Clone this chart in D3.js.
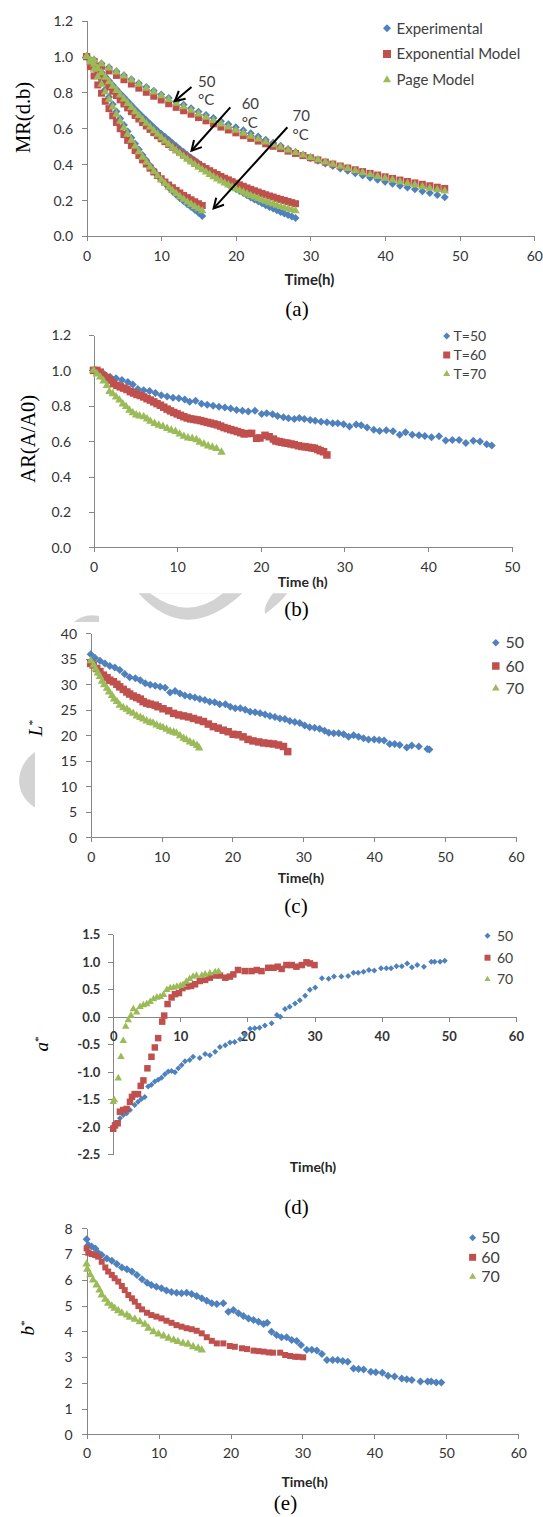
<!DOCTYPE html>
<html lang="en">
<head>
<meta charset="utf-8">
<title>Drying kinetics and colour</title>
<style>
  body { margin: 0; background: #fff; }
  svg { display: block; }
  .axis path, .axis line { stroke: #868686; shape-rendering: crispEdges; }
  .axis text { fill: #333; }
</style>
</head>
<body>
<svg id="chart"></svg>
<script src="https://d3js.org/d3.v7.min.js"></script>
<script>
// ---------- (a) moisture ratio ----------
var tA50 = [0,1,2,3,4,5,6,7,8,9,10,11,12,13,14,15,16,17,18,19,20,21,22,23,24,25,26,27,28,29,30,31,32,33,34,35,36,37,38,39,40,41,42,43,44,45,46,47,48];
var mrExpt50 = [1.000,0.983,0.962,0.940,0.918,0.896,0.874,0.852,0.830,0.810,0.789,0.769,0.750,0.731,0.712,0.693,0.675,0.657,0.640,0.623,0.606,0.589,0.572,0.555,0.537,0.520,0.503,0.485,0.468,0.451,0.434,0.419,0.404,0.390,0.376,0.363,0.350,0.337,0.325,0.313,0.302,0.291,0.280,0.270,0.260,0.250,0.240,0.229,0.216];
var mrExpo50 = [1.000,0.973,0.946,0.920,0.895,0.871,0.847,0.824,0.801,0.779,0.758,0.737,0.717,0.698,0.679,0.660,0.642,0.625,0.607,0.591,0.575,0.559,0.544,0.529,0.514,0.500,0.487,0.473,0.460,0.448,0.436,0.424,0.412,0.401,0.390,0.379,0.369,0.359,0.349,0.340,0.330,0.321,0.312,0.304,0.296,0.288,0.280,0.272,0.265];
var mrPage50 = [1.000,0.981,0.959,0.936,0.914,0.891,0.869,0.846,0.824,0.803,0.781,0.760,0.740,0.720,0.700,0.680,0.661,0.643,0.624,0.607,0.589,0.573,0.556,0.540,0.524,0.509,0.494,0.479,0.465,0.451,0.438,0.425,0.412,0.400,0.388,0.376,0.364,0.353,0.342,0.332,0.322,0.312,0.302,0.293,0.284,0.275,0.266,0.258,0.250];

var tA60 = [0,0.5,1,1.5,2,2.5,3,3.5,4,4.5,5,5.5,6,6.5,7,7.5,8,8.5,9,9.5,10,10.5,11,11.5,12,12.5,13,13.5,14,14.5,15,15.5,16,16.5,17,17.5,18,18.5,19,19.5,20,20.5,21,21.5,22,22.5,23,23.5,24,24.5,25,25.5,26,26.5,27,27.5,28];
var mrExpt60 = [1.000,0.982,0.960,0.936,0.913,0.889,0.865,0.841,0.818,0.794,0.773,0.751,0.729,0.707,0.686,0.665,0.645,0.625,0.606,0.587,0.570,0.553,0.536,0.518,0.501,0.484,0.468,0.452,0.436,0.421,0.405,0.389,0.374,0.359,0.344,0.330,0.316,0.302,0.289,0.276,0.263,0.251,0.239,0.227,0.215,0.204,0.193,0.182,0.172,0.162,0.153,0.143,0.134,0.125,0.117,0.109,0.101];
var mrExpo60 = [1.000,0.970,0.941,0.912,0.885,0.858,0.832,0.807,0.783,0.759,0.736,0.714,0.693,0.672,0.652,0.632,0.613,0.594,0.576,0.559,0.542,0.526,0.510,0.495,0.480,0.465,0.451,0.438,0.424,0.412,0.399,0.387,0.376,0.364,0.353,0.343,0.332,0.322,0.313,0.303,0.294,0.285,0.277,0.268,0.260,0.252,0.245,0.237,0.230,0.223,0.217,0.210,0.204,0.198,0.192,0.186,0.180];
var mrPage60 = [1.000,0.981,0.958,0.934,0.910,0.885,0.860,0.835,0.811,0.786,0.763,0.739,0.716,0.693,0.671,0.649,0.628,0.607,0.587,0.567,0.548,0.529,0.511,0.493,0.476,0.459,0.443,0.428,0.412,0.398,0.383,0.369,0.356,0.343,0.330,0.318,0.306,0.295,0.284,0.273,0.263,0.253,0.244,0.234,0.225,0.217,0.209,0.200,0.193,0.185,0.178,0.171,0.164,0.158,0.152,0.146,0.140];

var tA70 = [0,0.5,1,1.5,2,2.5,3,3.5,4,4.5,5,5.5,6,6.5,7,7.5,8,8.5,9,9.5,10,10.5,11,11.5,12,12.5,13,13.5,14,14.5,15,15.5];
var mrExpt70 = [1.000,0.972,0.935,0.897,0.857,0.816,0.775,0.734,0.694,0.655,0.618,0.582,0.547,0.514,0.482,0.451,0.422,0.393,0.366,0.340,0.315,0.292,0.270,0.249,0.230,0.211,0.194,0.177,0.162,0.146,0.130,0.112];
var mrExpo70 = [1.000,0.944,0.892,0.842,0.796,0.751,0.710,0.670,0.633,0.598,0.565,0.533,0.504,0.476,0.449,0.424,0.401,0.378,0.357,0.337,0.319,0.301,0.284,0.269,0.254,0.240,0.226,0.214,0.202,0.191,0.180,0.170];
var mrPage70 = [1.000,0.969,0.929,0.888,0.845,0.802,0.760,0.719,0.679,0.640,0.603,0.567,0.533,0.500,0.469,0.439,0.411,0.384,0.359,0.335,0.313,0.292,0.272,0.253,0.236,0.219,0.204,0.189,0.176,0.163,0.151,0.140];

// ---------- (b) area ratio [time, AR] ----------
var arT50 = [[0,1.00],[0.6,0.99],[1.3,0.978],[2.0,0.962],[2.7,0.955],[3.4,0.945],[4.1,0.935],[4.7,0.92],[5.3,0.895],[6.0,0.887],[6.7,0.884],[7.4,0.872],[8.1,0.86],[8.8,0.852],[9.5,0.846],[10.2,0.843],[10.9,0.835],[11.5,0.822],[12.2,0.829],[12.9,0.812],[13.6,0.806],[14.3,0.80],[15.0,0.795],[15.7,0.79],[16.4,0.784],[17.1,0.776],[17.8,0.772],[18.5,0.767],[19.3,0.772],[20.1,0.753],[20.7,0.757],[21.4,0.752],[22.0,0.742],[22.7,0.735],[23.3,0.729],[24.0,0.725],[24.6,0.731],[25.2,0.725],[25.9,0.72],[26.5,0.716],[27.2,0.71],[27.9,0.707],[28.6,0.701],[29.2,0.701],[29.9,0.695],[30.6,0.683],[31.4,0.694],[32.0,0.69],[32.7,0.677],[33.5,0.664],[34.2,0.658],[35.0,0.661],[35.8,0.656],[36.6,0.636],[37.3,0.65],[38.1,0.636],[38.9,0.634],[39.6,0.629],[40.4,0.622],[41.3,0.628],[42.1,0.604],[42.9,0.606],[43.7,0.606],[44.5,0.589],[45.4,0.602],[46.2,0.598],[47.0,0.582],[47.6,0.575]];
var arT60 = [[0,1.00],[0.4,1.00],[0.8,0.99],[1.2,0.97],[1.6,0.96],[2.0,0.945],[2.4,0.925],[2.8,0.915],[3.2,0.907],[3.6,0.90],[4.0,0.892],[4.4,0.88],[4.8,0.872],[5.2,0.864],[5.6,0.858],[6.0,0.85],[6.4,0.84],[6.8,0.832],[7.2,0.822],[7.6,0.812],[8.0,0.803],[8.4,0.792],[8.8,0.781],[9.2,0.771],[9.6,0.762],[10.0,0.754],[10.4,0.746],[10.8,0.738],[11.2,0.731],[11.6,0.726],[12.0,0.723],[12.4,0.72],[12.8,0.716],[13.2,0.711],[13.6,0.706],[14.0,0.702],[14.4,0.697],[14.8,0.692],[15.2,0.685],[15.6,0.677],[16.0,0.671],[16.4,0.665],[16.8,0.66],[17.2,0.654],[17.6,0.648],[18.0,0.641],[18.4,0.643],[18.9,0.644],[19.5,0.616],[19.9,0.618],[20.5,0.633],[21.0,0.625],[21.5,0.612],[21.8,0.601],[22.2,0.597],[22.5,0.594],[22.9,0.59],[23.2,0.588],[23.6,0.584],[24.0,0.58],[24.5,0.574],[24.9,0.570],[25.3,0.568],[25.7,0.565],[26.1,0.562],[26.4,0.56],[26.8,0.553],[27.1,0.546],[27.5,0.54],[27.9,0.522]];
var arT70 = [[0,1.0],[0.4,0.98],[0.8,0.962],[1.2,0.94],[1.6,0.915],[1.9,0.88],[2.3,0.868],[2.7,0.85],[3.1,0.832],[3.5,0.81],[3.9,0.795],[4.3,0.775],[4.7,0.76],[5.1,0.748],[5.5,0.742],[6.0,0.738],[6.4,0.725],[6.8,0.712],[7.3,0.700],[7.8,0.69],[8.3,0.683],[8.8,0.672],[9.3,0.662],[9.8,0.655],[10.3,0.640],[10.8,0.627],[11.3,0.618],[11.8,0.615],[12.3,0.608],[12.7,0.594],[13.2,0.584],[13.7,0.573],[14.2,0.566],[14.7,0.558],[15.3,0.537]];

// ---------- (c) L* ----------
var lT50 = [[0,35.9],[0.6,35.2],[1.3,34.6],[2.0,34.1],[2.7,33.6],[3.4,33.3],[4.1,32.8],[4.8,32.0],[5.5,31.4],[6.3,31.2],[7.0,30.8],[7.7,30.2],[8.4,29.9],[9.1,29.7],[9.8,29.5],[10.5,29.3],[11.2,28.4],[11.9,28.7],[12.6,28.2],[13.3,27.8],[14.0,27.6],[14.7,27.4],[15.4,27.1],[16.1,26.9],[16.8,26.6],[17.5,26.5],[18.2,26.1],[19.0,26.1],[19.7,25.6],[20.4,25.3],[21.1,25.3],[21.8,25.0],[22.5,24.6],[23.2,24.5],[23.9,24.3],[24.6,24.1],[25.3,23.8],[26.0,23.6],[26.7,23.3],[27.4,23.2],[28.1,22.8],[28.8,22.6],[29.5,22.4],[30.2,21.9],[30.9,21.6],[31.6,21.5],[32.3,21.3],[33.0,20.9],[33.6,20.5],[34.3,20.4],[35.0,20.4],[35.7,20.2],[36.4,19.7],[37.1,20.0],[37.8,19.7],[38.5,19.4],[39.2,19.2],[40.0,19.2],[40.7,19.1],[41.4,19.0],[42.2,18.3],[42.9,18.3],[43.6,18.1],[44.6,17.6],[45.3,18.0],[46.3,17.8],[47.5,17.3],[47.8,17.2]];
var lT60 = [[0,34.1],[0.35,33.8],[0.85,33.1],[1.3,32.5],[1.8,31.8],[2.3,31.3],[2.7,30.8],[3.2,30.5],[3.7,30.0],[4.1,29.5],[4.6,29.0],[5.1,28.5],[5.5,28.1],[6.0,27.7],[6.5,27.4],[7.0,27.1],[7.4,26.6],[7.9,26.3],[8.4,26.1],[9.1,25.9],[9.5,25.6],[10.2,25.2],[11.0,24.8],[11.7,24.3],[12.4,24.0],[13.1,23.8],[13.8,23.6],[14.5,23.3],[15.2,23.0],[15.9,22.7],[16.6,22.2],[17.3,21.7],[18.0,21.4],[18.7,21.0],[19.4,20.7],[20.1,20.2],[20.8,20.1],[21.5,19.7],[22.2,19.2],[22.9,18.9],[23.7,18.7],[24.4,18.5],[25.1,18.4],[25.8,18.3],[26.5,18.1],[27.2,17.8],[27.8,16.8]];
var lT70 = [[0,34.6],[0.4,33.8],[0.7,33.0],[1.0,32.2],[1.3,31.5],[1.6,30.6],[1.9,29.9],[2.3,29.2],[2.6,28.5],[3.0,27.8],[3.3,27.1],[3.7,26.6],[4.1,25.9],[4.6,25.4],[5.1,25.1],[5.5,24.6],[6.0,24.3],[6.5,23.8],[7.0,23.5],[7.4,23.2],[7.9,22.8],[8.4,22.5],[8.8,22.4],[9.3,22.0],[9.8,21.7],[10.2,21.5],[10.7,21.2],[11.2,20.8],[11.7,20.6],[12.1,20.4],[12.6,19.9],[13.1,19.4],[13.5,19.1],[14.0,18.7],[14.5,18.4],[15.0,18.0],[15.3,17.5]];

// ---------- (d) a* ----------
var aT50 = [[0,-2.00],[0.27,-1.94],[1.0,-1.85],[1.5,-1.79],[2.0,-1.76],[2.5,-1.70],[3.2,-1.61],[3.7,-1.55],[4.2,-1.50],[4.7,-1.46],[5.2,-1.27],[5.7,-1.24],[6.2,-1.18],[6.7,-1.15],[7.2,-1.11],[7.7,-1.05],[8.2,-1.00],[8.7,-0.99],[9.2,-1.01],[9.7,-0.94],[10.2,-0.88],[10.7,-0.81],[11.4,-0.79],[11.9,-0.73],[12.9,-0.75],[13.7,-0.68],[14.4,-0.70],[15.2,-0.64],[15.9,-0.55],[16.7,-0.52],[17.4,-0.47],[18.1,-0.46],[18.9,-0.41],[19.6,-0.33],[20.4,-0.22],[21.1,-0.21],[21.8,-0.20],[22.6,-0.16],[23.6,-0.12],[24.4,0.03],[24.9,0.00],[25.6,0.14],[26.3,0.18],[27.1,0.24],[27.8,0.30],[28.6,0.38],[29.3,0.49],[30.1,0.53],[31.1,0.70],[32.1,0.69],[32.9,0.73],[34.0,0.73],[35.0,0.74],[35.8,0.80],[36.5,0.80],[37.3,0.82],[38.1,0.85],[38.9,0.84],[39.9,0.88],[40.7,0.88],[41.4,0.88],[42.2,0.92],[43.0,0.92],[43.8,0.97],[44.5,0.90],[45.3,0.94],[46.3,0.91],[47.4,1.00],[47.9,1.00],[48.7,1.00],[49.4,1.02]];
var aT60 = [[0,-2.04],[0.27,-1.98],[0.67,-1.94],[1.0,-1.73],[1.5,-1.70],[2.0,-1.68],[2.5,-1.55],[2.8,-1.46],[3.2,-1.41],[3.7,-1.41],[4.1,-1.26],[4.5,-1.16],[5.1,-0.94],[5.7,-0.73],[6.2,-0.56],[6.7,-0.39],[7.3,-0.09],[7.6,0.02],[8.1,0.23],[8.7,0.35],[9.2,0.41],[9.8,0.43],[10.3,0.52],[11.0,0.55],[11.6,0.56],[12.2,0.59],[12.9,0.65],[13.7,0.67],[14.4,0.71],[15.2,0.75],[15.9,0.75],[16.7,0.71],[17.4,0.73],[17.9,0.77],[18.6,0.85],[19.6,0.83],[20.6,0.83],[21.4,0.85],[22.1,0.83],[23.1,0.89],[23.9,0.89],[24.5,0.91],[25.1,0.87],[25.8,0.94],[26.6,0.94],[27.3,0.91],[28.1,0.94],[28.8,0.99],[29.3,0.97],[30.0,0.94]];
var aT70 = [[0,-1.55],[0.17,-1.52],[0.76,-1.12],[1.16,-0.73],[1.5,-0.44],[1.86,-0.18],[2.25,-0.06],[2.65,0.02],[3.0,0.14],[3.5,0.08],[4.0,0.18],[4.5,0.21],[5.0,0.23],[5.5,0.27],[6.0,0.32],[6.5,0.35],[7.0,0.36],[7.5,0.40],[8.0,0.49],[8.5,0.52],[9.0,0.53],[9.5,0.55],[10.0,0.56],[10.4,0.58],[10.9,0.64],[11.4,0.69],[11.9,0.73],[12.4,0.75],[13.2,0.75],[13.7,0.77],[14.4,0.79],[15.2,0.81],[15.7,0.82]];

// ---------- (e) b* ----------
var bT50 = [[0,7.57],[0.24,7.35],[0.7,7.29],[1.2,7.22],[1.6,7.05],[2.1,6.96],[2.8,6.83],[3.5,6.74],[4.2,6.61],[4.9,6.48],[5.6,6.41],[6.3,6.32],[7.0,6.19],[7.7,6.02],[8.4,5.89],[9.0,5.80],[9.7,5.73],[10.4,5.67],[11.1,5.58],[11.8,5.53],[12.5,5.50],[13.2,5.48],[13.9,5.50],[14.6,5.45],[15.3,5.37],[16.0,5.28],[16.7,5.19],[17.4,5.09],[18.1,5.06],[19.0,5.09],[19.7,4.76],[20.4,4.83],[21.1,4.70],[21.8,4.59],[22.5,4.50],[23.2,4.44],[23.9,4.37],[24.6,4.28],[25.1,4.33],[25.7,3.98],[26.4,3.86],[27.1,3.77],[27.8,3.77],[28.5,3.66],[29.2,3.62],[29.8,3.47],[30.6,3.28],[31.3,3.28],[32.0,3.25],[32.7,3.12],[33.4,2.89],[34.2,2.89],[34.9,2.89],[35.6,2.85],[36.3,2.82],[37.1,2.56],[37.8,2.54],[38.5,2.52],[39.5,2.43],[40.2,2.41],[41.1,2.39],[41.9,2.27],[42.8,2.24],[43.8,2.17],[44.5,2.14],[45.2,2.11],[46.4,2.05],[47.4,2.05],[47.9,2.05],[48.6,2.01],[49.3,2.01]];
var bT60 = [[0,7.22],[0.24,7.05],[0.7,7.0],[1.2,6.96],[1.6,6.90],[2.1,6.70],[2.6,6.48],[3.0,6.32],[3.5,6.19],[3.9,6.06],[4.4,5.93],[4.9,5.76],[5.3,5.60],[5.8,5.41],[6.3,5.28],[6.7,5.15],[7.2,4.98],[7.7,4.85],[8.4,4.72],[9.0,4.63],[9.7,4.57],[10.4,4.50],[11.1,4.41],[11.8,4.33],[12.5,4.24],[13.2,4.18],[13.9,4.12],[14.6,4.08],[15.3,4.02],[16.0,3.92],[16.7,3.77],[17.4,3.63],[18.1,3.53],[19.0,3.53],[19.9,3.43],[20.6,3.40],[21.6,3.34],[22.3,3.31],[23.2,3.25],[23.9,3.23],[24.6,3.21],[25.3,3.18],[25.9,3.17],[26.9,3.17],[27.6,3.08],[28.3,3.04],[29.0,3.01],[29.4,3.01],[30.1,2.99]];
var bT70 = [[0,6.61],[0.1,6.41],[0.5,6.19],[0.9,5.99],[1.4,5.80],[1.8,5.60],[2.1,5.41],[2.6,5.24],[3.0,5.09],[3.5,4.98],[3.9,4.89],[4.4,4.80],[4.9,4.70],[5.6,4.63],[6.0,4.54],[6.7,4.47],[7.4,4.37],[8.1,4.27],[8.6,4.12],[9.3,3.98],[10.0,3.89],[10.7,3.82],[11.4,3.73],[12.1,3.66],[12.7,3.60],[13.4,3.53],[14.1,3.50],[14.8,3.40],[15.5,3.34],[16.0,3.27]];

var legendA = ["Experimental", "Exponential Model", "Page Model"];
var legendB = ["T=50", "T=60", "T=70"];
var legendT = ["50", "60", "70"];

var blue = "#4f81bd", red = "#c0504d", green = "#9bbb59";
var sans = "Lato, 'Open Sans', sans-serif";
var serif = "'Liberation Serif', 'DejaVu Serif', serif";

var svg = d3.select("#chart").attr("width", 543).attr("height", 1517);
svg.append("rect").attr("width", 543).attr("height", 1517).attr("fill", "#fff");

// faint watermark behind the charts
var wm = svg.append("g").attr("fill", "#d3d3d3");
wm.append("path").attr("d", "M35,752 C15,766 13,793 34,807 L35,807 Z");
wm.append("path").attr("d", "M74,622 Q84,613 99,616 L99,622 Z");
wm.append("path").attr("d", "M138.5,593.3 Q186,646 242.4,593.3 Z");
wm.append("path").attr("d", "M150,593.3 Q188,622 223,593.3 Z").attr("fill", "#fff");
wm.append("path").attr("d", "M273,593.3 L287.4,593.3 Q280,603 265,614 Q263,606 273,593.3 Z");

function shapePath(shape, s) {
  var h = s / 2;
  if (shape === "diamond") return "M0," + (-h) + "L" + h + ",0L0," + h + "L" + (-h) + ",0Z";
  if (shape === "square") return "M" + (-h) + "," + (-h) + "h" + s + "v" + s + "h" + (-s) + "Z";
  var H = s * 0.87;
  return "M0," + (-2 * H / 3) + "L" + h + "," + (H / 3) + "L" + (-h) + "," + (H / 3) + "Z";
}

function drawPanel(p) {
  var x = d3.scaleLinear().domain(p.xDomain).range([p.left, p.right]);
  var y = d3.scaleLinear().domain(p.yDomain).range([p.bottom, p.top]);
  var g = svg.append("g");

  var yAx = g.append("g").attr("class", "axis")
    .attr("transform", "translate(" + p.left + ",0)")
    .call(d3.axisLeft(y).tickValues(p.yTicks).tickFormat(p.yFmt).tickSize(5).tickSizeOuter(0));
  yAx.selectAll("text").attr("x", -p.yGap).attr("dy", "0.35em");

  var xAxisY = y(p.xAxisAt === undefined ? p.yDomain[0] : p.xAxisAt);
  var xAx = g.append("g").attr("class", "axis")
    .attr("transform", "translate(0," + xAxisY + ")")
    .call(d3.axisBottom(x).tickValues(p.xTicks).tickFormat(d3.format("d")).tickSize(5).tickSizeOuter(0));
  xAx.selectAll("text").attr("y", p.xGap).attr("dy", "0.35em");

  [yAx, xAx].forEach(function(a) {
    a.attr("font-family", p.font || sans).attr("font-size", p.tickFont)
      .attr("font-weight", p.tickWeight || "normal");
  });

  p.series.forEach(function(s) {
    g.append("g").selectAll("path")
      .data(s.data)
      .join("path")
      .attr("d", shapePath(s.shape, s.size))
      .attr("transform", function(d) { return "translate(" + x(d[0]) + "," + y(d[1]) + ")"; })
      .attr("fill", s.color);
  });

  // legend
  var lg = g.append("g");
  p.legend.labels.forEach(function(lab, i) {
    var s = p.series[p.legend.ref[i]];
    lg.append("path")
      .attr("d", shapePath(s.shape, p.legend.size))
      .attr("transform", "translate(" + p.legend.x + "," + p.legend.ys[i] + ")")
      .attr("fill", s.color);
    lg.append("text")
      .attr("x", p.legend.tx).attr("y", p.legend.ys[i]).attr("dy", "0.35em")
      .attr("font-family", sans).attr("font-size", p.legend.font)
      .attr("fill", "#404040")
      .text(lab);
  });

  // x title
  g.append("text")
    .attr("x", p.xTitle.x).attr("y", p.xTitle.y).attr("dy", "0.35em")
    .attr("text-anchor", "middle")
    .attr("font-family", sans).attr("font-weight", "bold").attr("font-size", p.xTitle.size)
    .attr("fill", "#262626")
    .text(p.xTitle.text);

  // y title
  var yt = g.append("text")
    .attr("transform", "translate(" + p.yTitle.x + "," + p.yTitle.y + ") rotate(-90)")
    .attr("text-anchor", "middle").attr("dy", "0.35em")
    .attr("font-family", serif).attr("font-size", p.yTitle.size)
    .attr("fill", "#000");
  if (p.yTitle.star) {
    yt.append("tspan").attr("font-style", "italic").text(p.yTitle.text);
    yt.append("tspan").attr("baseline-shift", "super").attr("font-size", "60%").text("*");
  } else {
    yt.text(p.yTitle.text);
  }

  // caption
  svg.append("text")
    .attr("x", p.caption.x).attr("y", p.caption.y).attr("dy", "0.35em")
    .attr("text-anchor", "middle")
    .attr("font-family", serif).attr("font-size", 21).attr("fill", "#000")
    .text(p.caption.text);

  return { x: x, y: y, g: g };
}

// ---------- panel (a) ----------
var pa = drawPanel({
  left: 86.6, right: 534.3, top: 20.7, bottom: 236,
  xDomain: [0, 60], yDomain: [0, 1.2],
  xTicks: [0, 10, 20, 30, 40, 50, 60], yTicks: [0, 0.2, 0.4, 0.6, 0.8, 1.0, 1.2],
  yFmt: d3.format(".1f"), yGap: 13.6, xGap: 20, tickFont: 14,
  series: [
    { data: d3.zip(tA50, mrExpt50).concat(d3.zip(tA60, mrExpt60), d3.zip(tA70, mrExpt70)), color: blue, shape: "diamond", size: 8 },
    { data: d3.zip(tA50, mrExpo50).concat(d3.zip(tA60, mrExpo60), d3.zip(tA70, mrExpo70)), color: red, shape: "square", size: 7 },
    { data: d3.zip(tA50, mrPage50).concat(d3.zip(tA60, mrPage60), d3.zip(tA70, mrPage70)), color: green, shape: "triangle", size: 8.5 }
  ],
  legend: { labels: legendA, ref: [0, 1, 2], x: 387, tx: 396.5, ys: [28.3, 54, 80], size: 8, font: 15 },
  xTitle: { text: "Time(h)", x: 309.5, y: 280, size: 15 },
  yTitle: { text: "MR(d.b)", x: 22.5, y: 117.5, size: 20.5 },
  caption: { text: "(a)", x: 297, y: 309 }
});

// temperature arrows on (a)
var arrowsA = [
  { label: "50", from: [14.06, 0.831], to: [11.83, 0.752], at: [14.93, 0.858, 0.758] },
  { label: "60", from: [19.26, 0.717], to: [14.06, 0.475], at: [20.78, 0.736, 0.630] },
  { label: "70", from: [26.91, 0.606], to: [17.02, 0.154], at: [27.6, 0.669, 0.563] }
];
arrowsA.forEach(function(a) {
  var x1 = pa.x(a.from[0]), y1 = pa.y(a.from[1]), x2 = pa.x(a.to[0]), y2 = pa.y(a.to[1]);
  var ang = Math.atan2(y2 - y1, x2 - x1), L = 11, w = 0.5;
  pa.g.append("line").attr("x1", x1).attr("y1", y1).attr("x2", x2).attr("y2", y2)
    .attr("stroke", "#000").attr("stroke-width", 2);
  pa.g.append("path")
    .attr("d", "M" + (x2 - L * Math.cos(ang - w)) + "," + (y2 - L * Math.sin(ang - w)) +
      "L" + x2 + "," + y2 +
      "L" + (x2 - L * Math.cos(ang + w)) + "," + (y2 - L * Math.sin(ang + w)))
    .attr("fill", "none").attr("stroke", "#000").attr("stroke-width", 2);
  pa.g.append("text").attr("x", pa.x(a.at[0])).attr("y", pa.y(a.at[1])).attr("dy", "0.35em")
    .attr("font-family", sans).attr("font-size", 15).attr("fill", "#404040").text(a.label);
  pa.g.append("text").attr("x", pa.x(a.at[0])).attr("y", pa.y(a.at[2])).attr("dy", "0.35em")
    .attr("font-family", sans).attr("font-size", 15).attr("fill", "#404040").text("°C");
});

// ---------- panel (b) ----------
drawPanel({
  left: 93.5, right: 511.8, top: 335, bottom: 547.3,
  xDomain: [0, 50], yDomain: [0, 1.2],
  xTicks: [0, 10, 20, 30, 40, 50], yTicks: [0, 0.2, 0.4, 0.6, 0.8, 1.0, 1.2],
  yFmt: d3.format(".1f"), yGap: 22.5, xGap: 19.4, tickFont: 14,
  series: [
    { data: arT50, color: blue, shape: "diamond", size: 8 },
    { data: arT60, color: red, shape: "square", size: 7.5 },
    { data: arT70, color: green, shape: "triangle", size: 8.5 }
  ],
  legend: { labels: legendB, ref: [0, 1, 2], x: 446.7, tx: 453.6, ys: [336, 355, 374], size: 7, font: 14 },
  xTitle: { text: "Time (h)", x: 302.7, y: 581.7, size: 14 },
  yTitle: { text: "AR(A/A0)", x: 27.7, y: 438.8, size: 20.5 },
  caption: { text: "(b)", x: 296.6, y: 609 }
});

// ---------- panel (c) ----------
drawPanel({
  left: 90.7, right: 515.9, top: 633.3, bottom: 837.3,
  xDomain: [0, 60], yDomain: [0, 40],
  xTicks: [0, 10, 20, 30, 40, 50, 60], yTicks: [0, 5, 10, 15, 20, 25, 30, 35, 40],
  yFmt: d3.format("d"), yGap: 13.7, xGap: 19.4, tickFont: 14,
  series: [
    { data: lT50, color: blue, shape: "diamond", size: 8 },
    { data: lT60, color: red, shape: "square", size: 7.5 },
    { data: lT70, color: green, shape: "triangle", size: 8.5 }
  ],
  legend: { labels: legendT, ref: [0, 1, 2], x: 495.8, tx: 505.5, ys: [642.7, 666, 688.3], size: 7.5, font: 16 },
  xTitle: { text: "Time(h)", x: 301, y: 878, size: 14 },
  yTitle: { text: "L", x: 35, y: 728, size: 19, star: true },
  caption: { text: "(c)", x: 296, y: 906 }
});

// ---------- panel (d) ----------
drawPanel({
  left: 113.2, right: 515.9, top: 934.3, bottom: 1154,
  xDomain: [0, 60], yDomain: [-2.5, 1.5], xAxisAt: 0,
  xTicks: [0, 10, 20, 30, 40, 50, 60], yTicks: [-2.5, -2, -1.5, -1, -0.5, 0, 0.5, 1, 1.5],
  yFmt: function(d) { return d.toFixed(1); }, yGap: 12.8, xGap: 19.3, tickFont: 13, tickWeight: "bold",
  series: [
    { data: aT50, color: blue, shape: "diamond", size: 6 },
    { data: aT60, color: red, shape: "square", size: 6.5 },
    { data: aT70, color: green, shape: "triangle", size: 7.5 }
  ],
  legend: { labels: legendT, ref: [0, 1, 2], x: 487.5, tx: 496.9, ys: [935.7, 957.7, 979.3], size: 6, font: 14 },
  xTitle: { text: "Time(h)", x: 313, y: 1167, size: 14 },
  yTitle: { text: "a", x: 41.5, y: 1044, size: 19, star: true },
  caption: { text: "(d)", x: 296.5, y: 1207 }
});

// ---------- panel (e) ----------
drawPanel({
  left: 86.6, right: 518.3, top: 1228.3, bottom: 1434.3,
  xDomain: [0, 60], yDomain: [0, 8],
  xTicks: [0, 10, 20, 30, 40, 50, 60], yTicks: [0, 1, 2, 3, 4, 5, 6, 7, 8],
  yFmt: d3.format("d"), yGap: 13.9, xGap: 19, tickFont: 14,
  series: [
    { data: bT50, color: blue, shape: "diamond", size: 8 },
    { data: bT60, color: red, shape: "square", size: 6 },
    { data: bT70, color: green, shape: "triangle", size: 8.5 }
  ],
  legend: { labels: legendT, ref: [0, 1, 2], x: 472.6, tx: 481.3, ys: [1237.7, 1257.3, 1276.7], size: 7, font: 16 },
  xTitle: { text: "Time(h)", x: 304.7, y: 1481.7, size: 14 },
  yTitle: { text: "b", x: 27, y: 1328, size: 19, star: true },
  caption: { text: "(e)", x: 285.5, y: 1503 }
});
</script>
</body>
</html>
